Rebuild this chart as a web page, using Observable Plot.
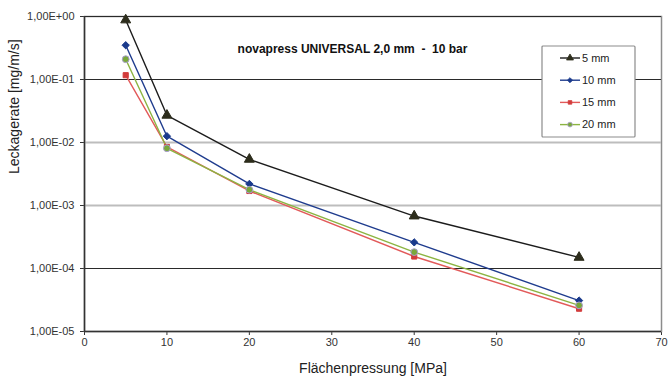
<!DOCTYPE html>
<html><head><meta charset="utf-8">
<script src="https://cdn.jsdelivr.net/npm/d3@7"></script>
<script src="https://cdn.jsdelivr.net/npm/@observablehq/plot@0.6"></script>
<style>
body{margin:0;background:#fff}
svg{font-family:"Liberation Sans",Arial,sans-serif}
</style>
</head><body><div id="chart"></div>
<script>
// Leakage rate vs. surface pressure for four gasket widths
const pressure = [5, 10, 20, 40, 60];
const series = ["5 mm", "10 mm", "15 mm", "20 mm"];
const leak5  = [0.88, 0.027, 0.0054, 6.8e-4, 1.5e-4];
const leak10 = [0.35, 0.0126, 0.0022, 2.6e-4, 3.1e-5];
const leak15 = [0.117, 0.0085, 0.0017, 1.55e-4, 2.3e-5];
const leak20 = [0.21, 0.0081, 0.00178, 1.82e-4, 2.6e-5];
const xTicks = [0, 10, 20, 30, 40, 50, 60, 70];
const yTicks = [1, 1e-1, 1e-2, 1e-3, 1e-4, 1e-5];
const yTickLabels = ["1,00E+00", "1,00E-01", "1,00E-02", "1,00E-03", "1,00E-04", "1,00E-05"];
const title = "novapress UNIVERSAL 2,0 mm\u00a0\u00a0-\u00a0\u00a010 bar";
const xLabel = "Flächenpressung [MPa]";
const yLabel = "Leckagerate [mg/m/s]";

const values = [leak5, leak10, leak15, leak20];
const rows = series.flatMap((s, i) => pressure.map((p, j) => ({s, p, v: values[i][j]})));

const diamond = d3.symbolDiamond2 || d3.symbolDiamond;
const style = {
  "5 mm":  {line: "#1c1c1c", fill: "#2d2d1c", stroke: "#2d2d1c", symbol: d3.symbolTriangle, r: 3.7},
  "10 mm": {line: "#1f3c8e", fill: "#1a3a8c", stroke: "#1a3a8c", symbol: diamond, r: 3.3},
  "15 mm": {line: "#e25a5a", fill: "#d23c3c", stroke: "#d23c3c", symbol: d3.symbolSquare, r: 2.9},
  "20 mm": {line: "#8cb442", fill: "#79a83a", stroke: "#a99ecf", symbol: d3.symbolCircle, r: 3.4}
};
const darkGrid = new Set([1, 1e-1, 1e-4]);

const marks = [
  Plot.frame({stroke: "#8c8c8c", strokeWidth: 1.5}),
  Plot.ruleY(yTicks.filter(d => !darkGrid.has(d) && d !== 1e-5), {stroke: "#bdbdbd", strokeWidth: 2}),
  Plot.ruleY(yTicks.filter(d => darkGrid.has(d)), {stroke: "#2a2a2a", strokeWidth: 1.2}),
  Plot.ruleY([1e-5], {stroke: "#333", strokeWidth: 1.5}),
  Plot.ruleX([0], {stroke: "#333", strokeWidth: 1.5}),
  Plot.text([title], {frameAnchor: "top-left", dx: 268, dy: 28, textAnchor: "middle",
    fontWeight: "bold", fontSize: 12, fill: "#111"}),
  Plot.text([xLabel], {frameAnchor: "bottom", dy: 41, fontSize: 14, fill: "#222"}),
  Plot.text([yLabel], {frameAnchor: "left", dx: -70, rotate: -90, fontSize: 14, fill: "#222"})
];
for (const s of series) {
  const st = style[s];
  const d = rows.filter(r => r.s === s);
  marks.push(Plot.line(d, {x: "p", y: "v", stroke: st.line, strokeWidth: 1.4}));
}
for (const s of series) {
  const st = style[s];
  const d = rows.filter(r => r.s === s);
  marks.push(Plot.dot(d, {x: "p", y: "v", symbol: st.symbol, r: st.r, fill: st.fill,
    stroke: st.stroke, strokeWidth: 1}));
}

const chart = Plot.plot({
  width: 668, height: 383,
  marginLeft: 84, marginRight: 7, marginTop: 16, marginBottom: 52,
  style: {fontFamily: "Liberation Sans, Arial, sans-serif", fontSize: "11px", color: "#333", background: "#fff"},
  x: {domain: [0, 70], ticks: xTicks, tickFormat: d => String(d), tickSize: 4, tickPadding: 3, label: null},
  y: {type: "log", domain: [1e-5, 1], ticks: yTicks, tickFormat: d => yTickLabels[yTicks.findIndex(t => Math.abs(Math.log10(t) - Math.log10(d)) < 1e-6)],
      tickSize: 4, tickPadding: 6, label: null},
  marks
});
document.getElementById("chart").appendChild(chart);

// Legend box in the upper right corner of the plot area
const svg = d3.select(chart);
const lg = svg.append("g").attr("transform", "translate(542,46)");
lg.append("rect").attr("width", 93).attr("height", 91)
  .attr("fill", "#fff").attr("stroke", "#8c8c8c").attr("stroke-width", 1.2).attr("rx", 1);
series.forEach((s, i) => {
  const st = style[s];
  const y = 12 + i * 22.2;
  lg.append("line").attr("x1", 18).attr("x2", 38).attr("y1", y).attr("y2", y)
    .attr("stroke", st.line).attr("stroke-width", 1.4);
  lg.append("path").attr("transform", `translate(28,${y})`)
    .attr("d", d3.symbol(st.symbol, Math.PI * (st.r * 0.7) ** 2)())
    .attr("fill", st.fill).attr("stroke", st.stroke).attr("stroke-width", 0.8);
  lg.append("text").attr("x", 40).attr("y", y).attr("dy", "0.35em")
    .attr("text-anchor", "start").attr("font-size", 11).attr("fill", "#222").text(s);
});
</script>
</body></html>
